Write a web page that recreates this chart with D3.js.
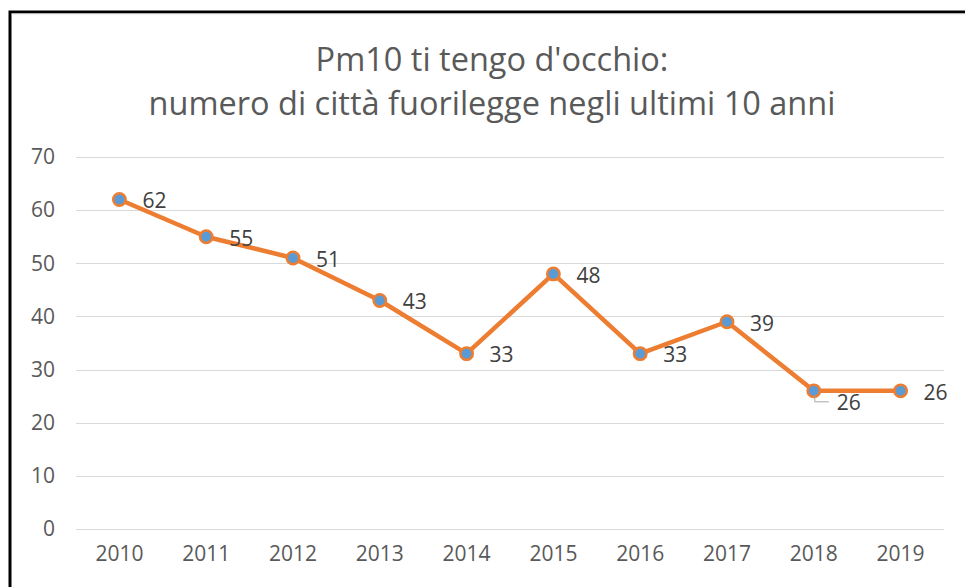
<!DOCTYPE html>
<html>
<head>
<meta charset="utf-8">
<script src="https://cdn.jsdelivr.net/npm/d3@7"></script>
<style>
  body { margin: 0; background: #fff; }
  svg text { font-family: "Open Sans", "DejaVu Sans", sans-serif; }
</style>
</head>
<body>
<div id="chart"></div>
<script>
const years = ['2010', '2011', '2012', '2013', '2014', '2015', '2016', '2017', '2018', '2019'];
const cities = [62, 55, 51, 43, 33, 48, 33, 39, 26, 26];
const yTicks = [0, 10, 20, 30, 40, 50, 60, 70];
const titleLines = ["Pm10 ti tengo d'occhio:", 'numero di città fuorilegge negli ultimi 10 anni'];

const W = 965, H = 587;
const margin = {top: 157, right: 21, bottom: 58, left: 76};
const width = W - margin.left - margin.right;
const height = H - margin.top - margin.bottom;

const svg = d3.select('#chart').append('svg')
    .attr('width', W)
    .attr('height', H);

// outer frame
svg.append('rect')
    .attr('x', 10).attr('y', 12)
    .attr('width', W + 10).attr('height', H + 10)
    .attr('fill', '#fff')
    .attr('stroke', '#000')
    .attr('stroke-width', 3);
svg.append('line')
    .attr('x1', 11.5).attr('x2', W)
    .attr('y1', 14).attr('y2', 14)
    .attr('stroke', '#e6e6e6').attr('stroke-width', 1);

// title
svg.append('g').selectAll('text')
    .data(titleLines)
    .enter().append('text')
    .attr('x', 492)
    .attr('y', (d, i) => 71 + i * 44)
    .attr('text-anchor', 'middle')
    .style('font-size', '32.5px')
    .attr('fill', '#595959')
    .text(d => d);

const g = svg.append('g')
    .attr('transform', `translate(${margin.left},${margin.top})`);

const x = d3.scaleBand()
    .domain(years)
    .range([0, width]);

const y = d3.scaleLinear()
    .domain([0, 70])
    .range([height, 0]);

// gridlines
g.append('g')
    .selectAll('line')
    .data(yTicks)
    .enter().append('line')
    .attr('x1', 0).attr('x2', width)
    .attr('y1', d => Math.round(y(d)) + 0.5)
    .attr('y2', d => Math.round(y(d)) + 0.5)
    .attr('stroke', '#d9d9d9')
    .attr('stroke-width', 1);

// y axis
const yAxis = g.append('g')
    .attr('transform', 'translate(-21,0)')
    .call(d3.axisLeft(y).tickValues(yTicks).tickSize(0).tickPadding(0));
yAxis.select('.domain').remove();
yAxis.selectAll('text')
    .style('font-size', '21px')
    .style('font-family', '"Open Sans", sans-serif')
    .attr('fill', '#595959');

// x axis
const xAxis = g.append('g')
    .attr('transform', `translate(0,${height + 17})`)
    .call(d3.axisBottom(x).tickSize(0).tickPadding(0));
xAxis.select('.domain').remove();
xAxis.selectAll('text')
    .style('font-size', '21px')
    .style('font-family', '"Open Sans", sans-serif')
    .attr('fill', '#595959');

const cx = d => x(d) + x.bandwidth() / 2;
const points = years.map((yr, i) => ({year: yr, value: cities[i]}));

// line
g.append('path')
    .datum(points)
    .attr('fill', 'none')
    .attr('stroke', '#ed7d31')
    .attr('stroke-width', 4.5)
    .attr('stroke-linejoin', 'round')
    .attr('d', d3.line().x(d => cx(d.year)).y(d => y(d.value)));

// markers
g.selectAll('.dot')
    .data(points)
    .enter().append('circle')
    .attr('class', 'dot')
    .attr('cx', d => cx(d.year))
    .attr('cy', d => y(d.value))
    .attr('r', 6.2)
    .attr('fill', '#5b9bd5')
    .attr('stroke', '#ed7d31')
    .attr('stroke-width', 2.5);

// labels (2018 sits below-right with a leader line)
g.selectAll('.lbl')
    .data(points)
    .enter().append('text')
    .attr('class', 'lbl')
    .attr('x', d => cx(d.year) + 23)
    .attr('y', d => y(d.value) + (d.year === '2018' ? 12 : 1.5))
    .attr('dy', '0.35em')
    .style('font-size', '21px')
    .attr('fill', '#404040')
    .text(d => d.value);

const p18 = points.find(d => d.year === '2018');
g.append('path')
    .attr('d', `M${cx('2018') + 1},${y(p18.value) + 5}L${cx('2018') + 1},${y(p18.value) + 11}L${cx('2018') + 15},${y(p18.value) + 11}`)
    .attr('fill', 'none')
    .attr('stroke', '#a6a6a6')
    .attr('stroke-width', 1);
</script>
</body>
</html>
